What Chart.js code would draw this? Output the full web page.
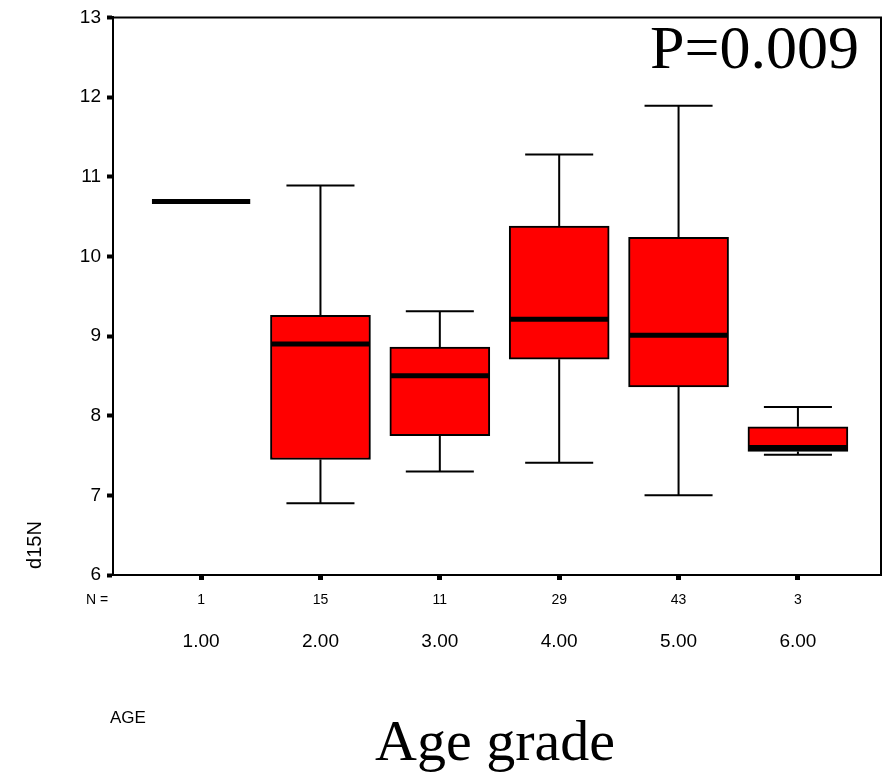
<!DOCTYPE html>
<html>
<head>
<meta charset="utf-8">
<script src="https://cdn.jsdelivr.net/npm/chart.js@4/dist/chart.umd.min.js"></script>
<style>
  html, body { margin: 0; padding: 0; background: #fff; }
  #wrap { width: 891px; height: 778px; position: relative; }
</style>
</head>
<body>
<div id="wrap"><canvas id="boxChart"></canvas></div>
<script>
// age grade groups and box statistics
const ages = ['1.00', '2.00', '3.00', '4.00', '5.00', '6.00'];
const counts = [1, 15, 11, 29, 43, 3];
const whiskerLow = [10.69, 6.90, 7.30, 7.41, 7.00, 7.51];
const q1 = [10.69, 7.45, 7.75, 8.71, 8.36, 7.55];
const median = [10.69, 8.90, 8.50, 9.21, 9.01, 7.60];
const q3 = [10.69, 9.26, 8.86, 10.38, 10.24, 7.86];
const whiskerHigh = [10.69, 10.89, 9.31, 11.28, 11.89, 8.11];
const yTicks = [6, 7, 8, 9, 10, 11, 12, 13];

const SANS = "'Liberation Sans', Arial, sans-serif";
const SERIF = "'Liberation Serif', 'Times New Roman', serif";

const BOX_HALF = 0.42;   // in x units
const CAP_HALF = 0.285;

// whiskers, medians, frame and the loose text
const boxPlot = {
    id: 'boxPlot',
    beforeDatasetsDraw(chart) {
        const { ctx, scales: { x, y } } = chart;
        ctx.save();
        ctx.strokeStyle = '#000';
        ctx.lineWidth = 2;
        ages.forEach((a, i) => {
            if (whiskerHigh[i] === whiskerLow[i]) return;
            const cx = x.getPixelForValue(i + 1);
            const l = x.getPixelForValue(i + 1 - CAP_HALF);
            const r = x.getPixelForValue(i + 1 + CAP_HALF);
            const yHi = y.getPixelForValue(whiskerHigh[i]);
            const yLo = y.getPixelForValue(whiskerLow[i]);
            ctx.beginPath();
            ctx.moveTo(cx, yHi); ctx.lineTo(cx, y.getPixelForValue(q3[i]));
            ctx.moveTo(cx, yLo); ctx.lineTo(cx, y.getPixelForValue(q1[i]));
            ctx.moveTo(l, yHi); ctx.lineTo(r, yHi);
            ctx.moveTo(l, yLo); ctx.lineTo(r, yLo);
            ctx.stroke();
        });
        ctx.restore();
    },
    afterDatasetsDraw(chart) {
        const { ctx, chartArea: ca, scales: { x, y } } = chart;
        ctx.save();
        ctx.strokeStyle = '#000';
        ctx.lineWidth = 5;
        ages.forEach((a, i) => {
            const ym = y.getPixelForValue(median[i]);
            ctx.beginPath();
            ctx.moveTo(x.getPixelForValue(i + 1 - BOX_HALF) + 1, ym);
            ctx.lineTo(x.getPixelForValue(i + 1 + BOX_HALF) - 1, ym);
            ctx.stroke();
        });

        // top and right edges of the frame
        ctx.lineWidth = 2;
        ctx.beginPath();
        ctx.moveTo(ca.left, ca.top);
        ctx.lineTo(ca.right, ca.top);
        ctx.lineTo(ca.right, ca.bottom);
        ctx.stroke();

        // N row
        ctx.fillStyle = '#000';
        ctx.textBaseline = 'middle';
        ctx.font = '14px ' + SANS;
        ctx.textAlign = 'center';
        counts.forEach((n, i) => ctx.fillText(String(n), x.getPixelForValue(i + 1), ca.bottom + 25));
        ctx.textAlign = 'left';
        ctx.fillText('N =', 86, ca.bottom + 25);

        ctx.font = '17px ' + SANS;
        ctx.fillText('AGE', 110, 718);

        // y axis title sits low, next to the bottom of the axis
        ctx.save();
        ctx.translate(35, 545);
        ctx.rotate(-Math.PI / 2);
        ctx.textAlign = 'center';
        ctx.font = '20px ' + SANS;
        ctx.fillText('d15N', 0, 0);
        ctx.restore();

        ctx.font = '58px ' + SERIF;
        ctx.textAlign = 'center';
        ctx.textBaseline = 'alphabetic';
        ctx.fillText('Age grade', 495, 760);
        ctx.font = '62px ' + SERIF;
        ctx.textAlign = 'right';
        ctx.fillText('P=0.009', 859, 68);
        ctx.restore();
    }
};

new Chart(document.getElementById('boxChart'), {
    type: 'bar',
    data: {
        datasets: [{
            data: ages.map((a, i) => ({ x: i + 1, y: [q1[i], q3[i]] })),
            backgroundColor: '#ff0000',
            borderColor: '#000',
            borderWidth: 2,
            borderSkipped: false,
            barThickness: 100
        }]
    },
    options: {
        responsive: true, maintainAspectRatio: false, animation: false,
        layout: { padding: { top: 16, right: 10, left: 0, bottom: 0 } },
        plugins: { legend: { display: false }, tooltip: { enabled: false } },
        scales: {
            x: {
                type: 'linear', min: 0.262, max: 6.696, offset: false,
                afterBuildTicks: s => { s.ticks = ages.map((a, i) => ({ value: i + 1 })); },
                afterFit: s => { s.height = 203; },
                ticks: {
                    callback: (v) => ages[v - 1], color: '#000', padding: 50,
                    font: { family: SANS, size: 19 }, maxRotation: 0
                },
                grid: { offset: false, drawOnChartArea: false, drawTicks: true, tickLength: 5, tickWidth: 5, color: '#000' },
                border: { color: '#000', width: 2 }
            },
            y: {
                min: 6, max: 13,
                afterBuildTicks: s => { s.ticks = yTicks.map(v => ({ value: v })); },
                afterFit: s => { s.width = 113; },
                ticks: { color: '#000', padding: 6, font: { family: SANS, size: 19 } },
                grid: { drawOnChartArea: false, drawTicks: true, tickLength: 6, tickWidth: 4, color: '#000' },
                border: { color: '#000', width: 2 }
            }
        }
    },
    plugins: [boxPlot]
});
</script>
</body>
</html>
